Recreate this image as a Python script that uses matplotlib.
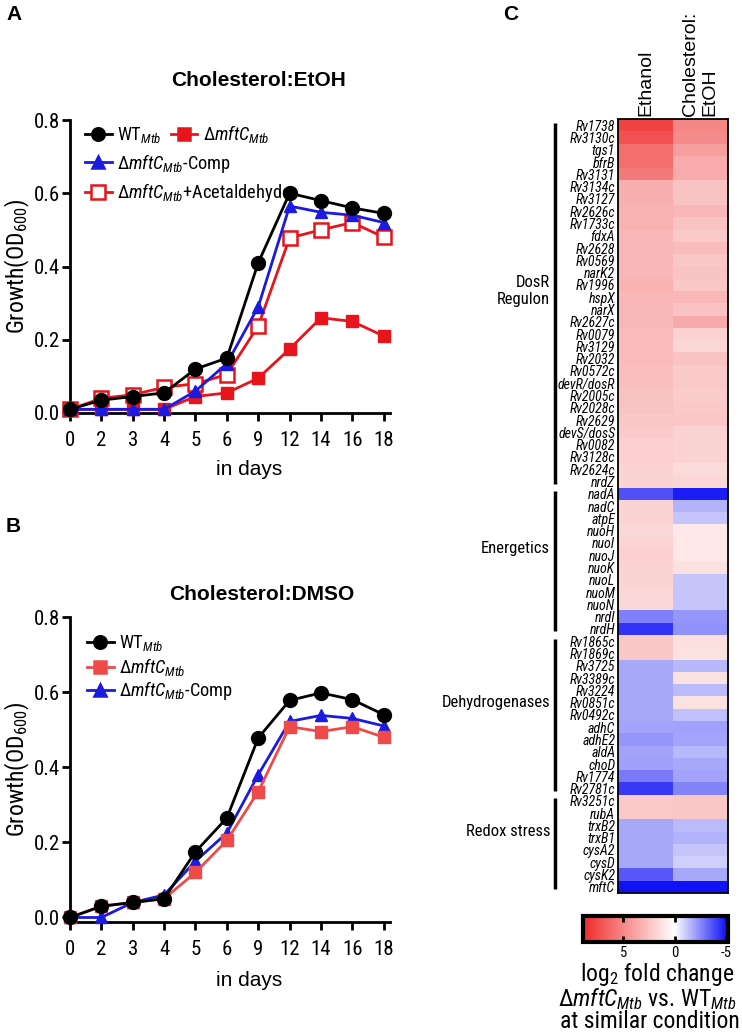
"""Growth curves (A, B) and log2 fold-change heatmap (C)."""

import matplotlib

matplotlib.use("Agg")
import matplotlib.pyplot as plt
import numpy as np
from matplotlib import font_manager
from matplotlib.colors import LinearSegmentedColormap
from matplotlib.lines import Line2D
from matplotlib.transforms import blended_transform_factory


def pick_font(names):
    for name in names:
        try:
            font_manager.findfont(font_manager.FontProperties(family=name),
                                  fallback_to_default=False)
            return name
        except Exception:
            continue
    return "DejaVu Sans"


NARROW = pick_font(["Liberation Sans Narrow", "Roboto Condensed", "Liberation Sans"])
SANS = pick_font(["Liberation Sans", "Arial", "DejaVu Sans"])
IS_NARROW = NARROW != SANS

plt.rcParams["font.family"] = [NARROW, "DejaVu Sans"]
plt.rcParams["mathtext.fontset"] = "custom"
plt.rcParams["mathtext.rm"] = NARROW
plt.rcParams["mathtext.it"] = NARROW + ":italic"
plt.rcParams["mathtext.bf"] = NARROW + ":bold"

# ---- growth data -------------------------------------------------------
days = ["0", "2", "3", "4", "5", "6", "9", "12", "14", "16", "18"]

wt_etoh = [0.01, 0.035, 0.045, 0.055, 0.12, 0.15, 0.41, 0.60, 0.58, 0.56, 0.545]
ko_etoh = [0.01, 0.01, 0.01, 0.01, 0.045, 0.055, 0.095, 0.175, 0.26, 0.25, 0.21]
comp_etoh = [0.01, 0.01, 0.01, 0.01, 0.06, 0.135, 0.29, 0.565, 0.548, 0.54, 0.52]
ald_etoh = [0.01, 0.04, 0.05, 0.07, 0.08, 0.105, 0.238, 0.478, 0.50, 0.52, 0.48]

wt_dmso = [0.0, 0.03, 0.04, 0.05, 0.175, 0.265, 0.478, 0.578, 0.598, 0.58, 0.54]
ko_dmso = [0.0, 0.03, 0.04, 0.05, 0.12, 0.205, 0.335, 0.508, 0.495, 0.508, 0.48]
comp_dmso = [0.0, 0.0, 0.04, 0.06, 0.15, 0.225, 0.38, 0.522, 0.538, 0.53, 0.51]

# ---- heatmap data ------------------------------------------------------
conditions = ["Ethanol", "Cholesterol:\nEtOH"]
groups = ["DosR\nRegulon", "Energetics", "Dehydrogenases", "Redox stress"]
genes_dosr = ["Rv1738", "Rv3130c", "tgs1", "bfrB", "Rv3131", "Rv3134c", "Rv3127",
              "Rv2626c", "Rv1733c", "fdxA", "Rv2628", "Rv0569", "narK2", "Rv1996",
              "hspX", "narX", "Rv2627c", "Rv0079", "Rv3129", "Rv2032", "Rv0572c",
              "devR/dosR", "Rv2005c", "Rv2028c", "Rv2629", "devS/dosS", "Rv0082",
              "Rv3128c", "Rv2624c", "nrdZ"]
genes_energ = ["nadA", "nadC", "atpE", "nuoH", "nuoI", "nuoJ", "nuoK", "nuoL",
               "nuoM", "nuoN", "nrdI", "nrdH"]
genes_dehyd = ["Rv1865c", "Rv1869c", "Rv3725", "Rv3389c", "Rv3224", "Rv0851c",
               "Rv0492c", "adhC", "adhE2", "aldA", "choD", "Rv1774", "Rv2781c"]
genes_redox = ["Rv3251c", "rubA", "trxB2", "trxB1", "cysA2", "cysD", "cysK2", "mftC"]

lfc_ethanol = [7.8, 7.2, 6.0, 6.0, 5.5, 3.3, 3.3, 3.2, 3.2, 3.0, 3.0, 3.0, 3.0, 3.2,
               3.0, 2.9, 2.9, 2.8, 2.8, 2.8, 2.7, 2.7, 2.5, 2.5, 2.3, 2.2, 2.0, 2.0,
               1.8, 1.8,
               -3.7, 1.8, 1.8, 1.6, 1.8, 2.0, 1.8, 1.8, 1.7, 1.6, -2.7, -4.3,
               2.3, 2.3, -1.8, -1.8, -1.8, -1.8, -1.8, -1.9, -2.2, -1.9, -2.0, -2.8,
               -4.2,
               2.2, 2.2, -1.8, -1.8, -1.8, -1.8, -3.5, -5.0]
lfc_chol = [5.0, 4.8, 4.0, 3.5, 3.5, 2.5, 2.5, 3.0, 2.5, 2.2, 2.8, 2.3, 2.5, 2.3,
            3.0, 2.5, 3.6, 1.9, 1.7, 2.5, 2.2, 2.2, 2.1, 2.2, 2.4, 1.9, 1.8, 1.8,
            1.5, 1.7,
            -4.8, -1.6, -1.2, 1.0, 1.0, 1.0, 1.2, -1.2, -1.2, -1.2, -2.2, -2.3,
            1.3, 1.2, -1.5, 1.2, -1.4, 1.2, -1.3, -2.0, -1.9, -1.5, -1.8, -1.9, -2.6,
            2.3, 2.4, -1.4, -1.6, -1.2, -1.0, -1.8, -5.0]

W, H = 742, 1032
fig = plt.figure(figsize=(W / 100, H / 100), dpi=100)

# regular sans is wider than the narrow face of the original
K = 1.0 if IS_NARROW else 0.84


def box(left, top, right, bottom):
    return [left / W, 1 - bottom / H, (right - left) / W, (bottom - top) / H]


def fx(px):
    return px / W


def fy(py):
    return 1 - py / H


RED = "#E8141B"
RED_B = "#EF4A4A"
BLUE = "#1A1AE0"

lab_wt = r"WT$_{Mtb}$"
lab_ko = r"$\Delta mftC_{Mtb}$"
lab_comp = r"$\Delta mftC_{Mtb}$-Comp"
lab_ald = r"$\Delta mftC_{Mtb}$+Acetaldehyde"


def style_growth(ax, ymin):
    ax.set_ylim(ymin, 0.8)
    ax.set_xlim(0, 10.2)
    ax.set_yticks([0.0, 0.2, 0.4, 0.6, 0.8])
    ax.set_yticklabels(["0.0", "0.2", "0.4", "0.6", "0.8"])
    for side in ["top", "right"]:
        ax.spines[side].set_visible(False)
    for side in ["left", "bottom"]:
        ax.spines[side].set_linewidth(2.0)
    ax.tick_params(axis="both", direction="out", length=6, width=2.0,
                   labelsize=15 * K)
    ax.tick_params(axis="x", pad=7)
    ax.tick_params(axis="y", pad=1)
    ax.set_xlabel("in days", fontsize=15, family=SANS)
    ax.xaxis.set_label_coords(0.56, -0.16)
    ax.set_ylabel(r"Growth(OD$_{600}$)", fontsize=17 * K)
    ax.yaxis.set_label_coords(-0.118, 0.5)


def legend_row(handles, labels, x_px, y_px):
    leg = fig.legend(handles, labels, loc="center left",
                     bbox_to_anchor=(fx(x_px), fy(y_px)), ncol=len(handles),
                     frameon=False, borderpad=0, borderaxespad=0,
                     handlelength=1.45, handletextpad=0.3, columnspacing=0.5,
                     fontsize=13.2 * K)
    return leg


def handle(color, marker, ms, mfc=None):
    return Line2D([], [], color=color, marker=marker, markersize=ms,
                  markerfacecolor=mfc or color, markeredgewidth=1.8, lw=2)


# ---- panel A -----------------------------------------------------------
ax_a = fig.add_axes(box(70, 120, 390, 413))
ax_a.plot(days, ko_etoh, color=RED, marker="s", ms=9, lw=2, clip_on=False, zorder=3)
ax_a.plot(days, ald_etoh, color=RED, marker="s", ms=10, mfc="white", mew=1.8,
          lw=2, clip_on=False, zorder=4)
ax_a.plot(days, comp_etoh, color=BLUE, marker="^", ms=9, lw=2, clip_on=False, zorder=5)
ax_a.plot(days, wt_etoh, color="black", marker="o", ms=10, lw=2, clip_on=False,
          zorder=6)
style_growth(ax_a, 0.0)

legend_row([handle("black", "o", 9), handle(RED, "s", 9)], [lab_wt, lab_ko], 85, 134)
legend_row([handle(BLUE, "^", 9)], [lab_comp], 85, 163)
legend_row([handle(RED, "s", 10, "white")], [lab_ald], 85, 193)

fig.text(fx(258), fy(80), "Cholesterol:EtOH", ha="center", va="center",
         fontsize=15, fontweight="bold", family=SANS)
fig.text(fx(6), fy(15), "A", ha="left", va="center", fontsize=15,
         fontweight="bold", family=SANS)

# ---- panel B -----------------------------------------------------------
ax_b = fig.add_axes(box(70, 617, 390, 922))
ax_b.plot(days, comp_dmso, color=BLUE, marker="^", ms=9, lw=2, clip_on=False, zorder=3)
ax_b.plot(days, ko_dmso, color=RED_B, marker="s", ms=9, lw=2, clip_on=False, zorder=4)
ax_b.plot(days, wt_dmso, color="black", marker="o", ms=10, lw=2, clip_on=False,
          zorder=5)
style_growth(ax_b, -0.012)

legend_row([handle("black", "o", 9)], [lab_wt], 87, 643)
legend_row([handle(RED_B, "s", 9)], [lab_ko], 87, 667)
legend_row([handle(BLUE, "^", 9)], [lab_comp], 87, 691)

fig.text(fx(262), fy(595), "Cholesterol:DMSO", ha="center", va="center",
         fontsize=15, fontweight="bold", family=SANS)
fig.text(fx(6), fy(527), "B", ha="left", va="center", fontsize=15,
         fontweight="bold", family=SANS)

# ---- panel C -----------------------------------------------------------
genes = genes_dosr + genes_energ + genes_dehyd + genes_redox
group_sizes = [len(genes_dosr), len(genes_energ), len(genes_dehyd), len(genes_redox)]
values = np.column_stack([lfc_ethanol, lfc_chol])

vmin, vmax = -5.2, 8.9
zero = (0 - vmin) / (vmax - vmin)
cmap = LinearSegmentedColormap.from_list(
    "bwr_shift", [(0.0, "#0A0AF5"), (zero, "#FFFFFF"), (1.0, "#EE2A2A")])

ax_c = fig.add_axes(box(618, 119, 728, 893))
im = ax_c.imshow(values, aspect="auto", cmap=cmap, vmin=vmin, vmax=vmax,
                 interpolation="nearest")
ax_c.set_xticks([])
ax_c.set_yticks(range(len(genes)))
ax_c.set_yticklabels(genes, fontstyle="italic", fontsize=10 * K)
ax_c.tick_params(axis="y", length=0, pad=2)
for sp in ax_c.spines.values():
    sp.set_linewidth(1.3)

for i, cond in enumerate(conditions):
    ax_c.text(i, -0.75, cond, rotation=90, ha="center", va="bottom",
              multialignment="left", fontsize=14, family=SANS)

trans = blended_transform_factory(fig.transFigure, ax_c.transData)
start = 0
for name, size in zip(groups, group_sizes):
    y0, y1 = start - 0.2, start + size - 0.8
    ax_c.plot([fx(555), fx(555)], [y0, y1], color="black", lw=2.5,
              transform=trans, clip_on=False, solid_capstyle="butt")
    ax_c.text(fx(550), (y0 + y1) / 2 - 1.0, name, transform=trans, ha="right",
              va="center", fontsize=12 * K, multialignment="right",
              linespacing=1.1)
    start += size

fig.text(fx(503), fy(15), "C", ha="left", va="center", fontsize=15,
         fontweight="bold", family=SANS)

# colour bar
cax = fig.add_axes(box(583, 916, 728, 942))
cb = fig.colorbar(im, cax=cax, orientation="horizontal")
cax.invert_xaxis()
cb.outline.set_linewidth(3)
cb.set_ticks([5, 0, -5])
cb.set_ticklabels(["5", "0", "-5"])
cax.tick_params(axis="x", direction="in", top=True, bottom=True, length=4,
                width=2, labelsize=10.5 * K, pad=3)

fig.text(fx(657), fy(974), r"log$_2$ fold change", ha="center", va="center",
         fontsize=17 * K)
fig.text(fx(647), fy(999), r"$\Delta mftC_{Mtb}$ vs. WT$_{Mtb}$", ha="center",
         va="center", fontsize=17 * K)
fig.text(fx(650), fy(1022), "at similar condition", ha="center", va="center",
         fontsize=17 * K)

fig.savefig("out.png", dpi=100)
